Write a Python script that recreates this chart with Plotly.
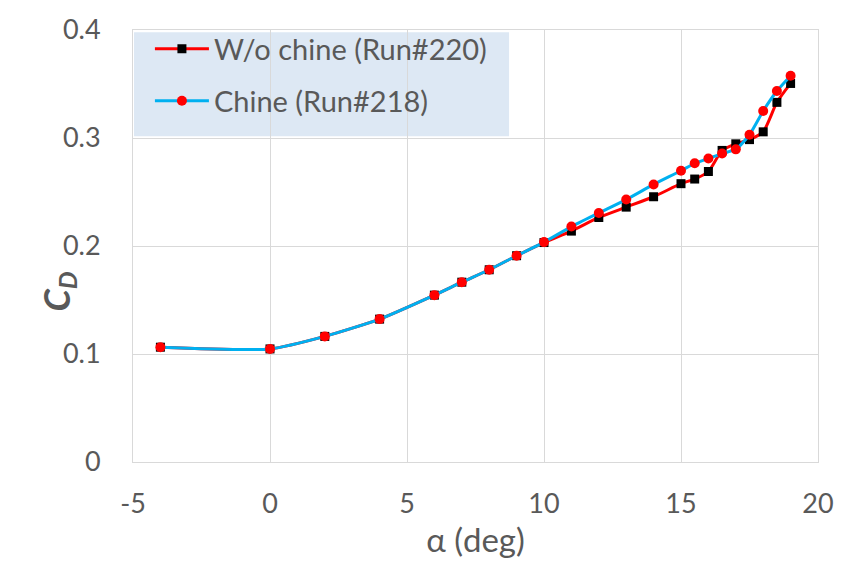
import plotly.graph_objects as go

# Angle of attack (deg)
alpha = [-4, 0, 2, 4, 6, 7, 8, 9, 10, 11, 12, 13, 14, 15, 15.5, 16, 16.5, 17, 17.5, 18, 18.5, 19]

# Drag coefficient, configuration without chine (Run#220)
cd_no_chine = [0.1063, 0.1047, 0.1163, 0.1323, 0.1545, 0.1665, 0.178, 0.191, 0.2032, 0.2138,
               0.2264, 0.236, 0.2456, 0.2577, 0.262, 0.269, 0.2885, 0.2946, 0.2985, 0.3057,
               0.333, 0.3505]

# Drag coefficient, configuration with chine (Run#218)
cd_chine = [0.1063, 0.1047, 0.1163, 0.1323, 0.1545, 0.1665, 0.178, 0.191, 0.2036, 0.218,
            0.2306, 0.243, 0.257, 0.2697, 0.2766, 0.281, 0.2856, 0.2895, 0.303, 0.325,
            0.3435, 0.3577]

x_ticks = [-5, 0, 5, 10, 15, 20]
x_tick_text = ["-5", "0", "5", "10", "15", "20"]
y_ticks = [0, 0.1, 0.2, 0.3, 0.4]
y_tick_text = ["0", "0.1", "0.2", "0.3", "0.4"]

FONT = "Lato"
GREY = "#595959"
GRID = "#D9D9D9"

fig = go.Figure()

fig.add_trace(go.Scatter(
    x=alpha, y=cd_no_chine, name="W/o chine (Run#220)",
    mode="lines+markers", legend="legend",
    line=dict(color="#FF0000", width=3, shape="spline", smoothing=0.6),
    marker=dict(symbol="square", size=9, color="#000000"),
))

fig.add_trace(go.Scatter(
    x=alpha, y=cd_chine, name="Chine (Run#218)",
    mode="lines+markers", legend="legend2",
    line=dict(color="#00B0F0", width=3, shape="spline", smoothing=0.6),
    marker=dict(symbol="circle", size=10, color="#FF0000"),
))

# legend background panel
fig.add_shape(type="rect", xref="paper", yref="paper",
              x0=0.0015, x1=0.549, y0=0.754, y1=0.995,
              fillcolor="#DDE8F4", line=dict(width=0), layer="below")

# vertical axis title
fig.add_annotation(text="<b><i>C<sub>D</sub></i></b>", xref="paper", yref="paper",
                   x=-0.148, y=0.395, textangle=-90, showarrow=False,
                   font=dict(family=FONT, size=36, color=GREY))

legend_style = dict(xanchor="left", yanchor="middle", bgcolor="rgba(0,0,0,0)",
                    font=dict(family=FONT, size=29, color=GREY), itemwidth=54,
                    borderwidth=0)

fig.update_layout(
    width=846, height=565,
    margin=dict(l=133, r=26, t=19, b=103),
    paper_bgcolor="white", plot_bgcolor="white",
    font=dict(family=FONT, color=GREY, size=27),
    showlegend=True,
    legend=dict(x=0.0247, y=0.956, **legend_style),
    legend2=dict(x=0.0247, y=0.836, **legend_style),
    xaxis=dict(range=[-5, 20], tickvals=x_ticks, ticktext=x_tick_text, ticks="",
               showgrid=True, gridcolor=GRID, gridwidth=1,
               showline=True, linecolor=GRID, linewidth=1, mirror=True,
               zeroline=False, tickfont=dict(size=27, color=GREY), ticklabelstandoff=18,
               title=dict(text="α (deg)", font=dict(size=33, color=GREY), standoff=10)),
    yaxis=dict(range=[0, 0.4], tickvals=y_ticks, ticktext=y_tick_text, ticks="",
               showgrid=True, gridcolor=GRID, gridwidth=1,
               showline=True, linecolor=GRID, linewidth=1, mirror=True,
               zeroline=False, tickfont=dict(size=27, color=GREY), ticklabelstandoff=26),
)

fig.write_html("out.html")
